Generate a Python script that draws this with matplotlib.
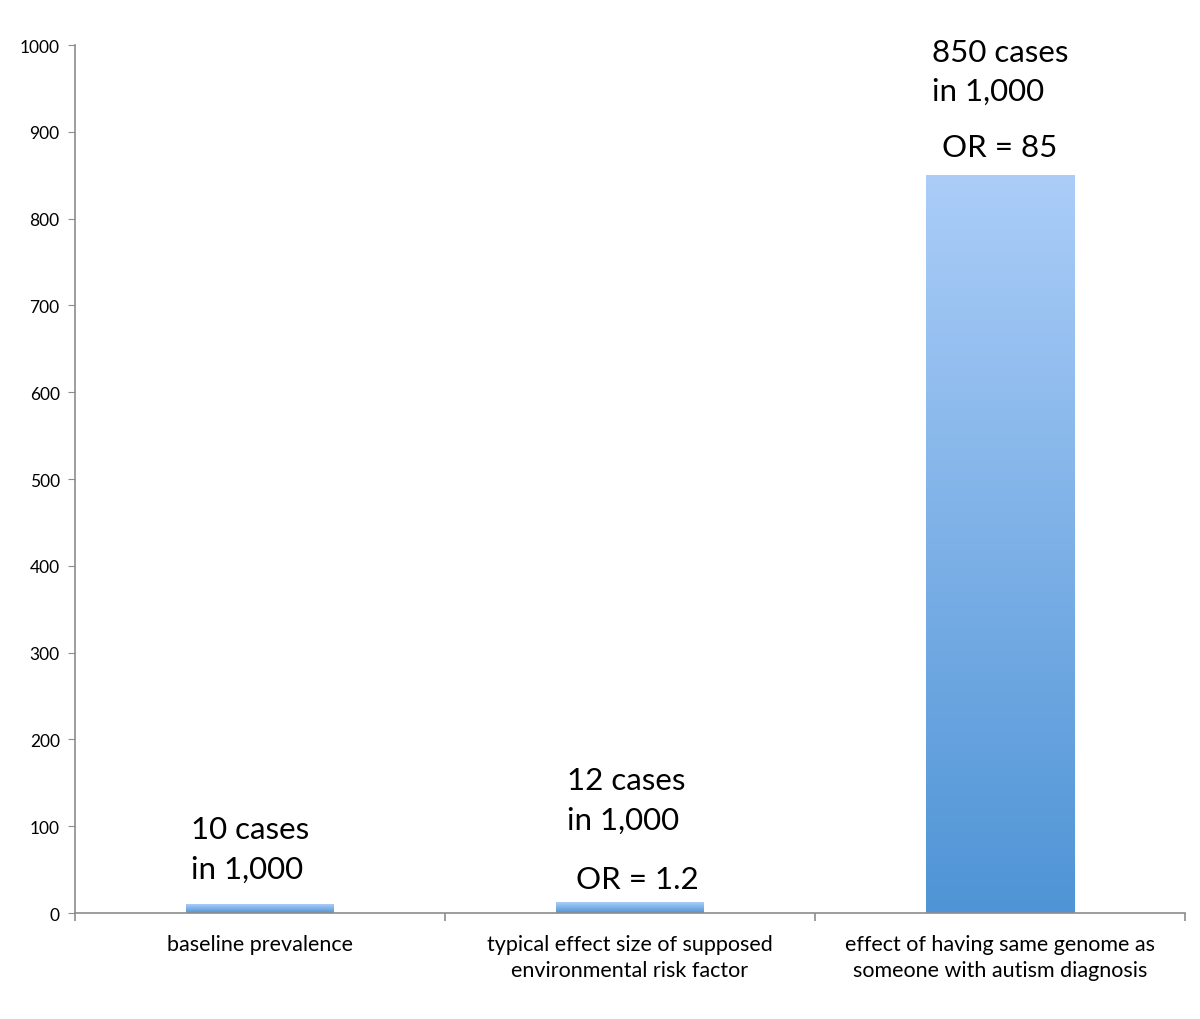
import numpy as np
import matplotlib
matplotlib.use("Agg")
import matplotlib.pyplot as plt
from matplotlib.colors import LinearSegmentedColormap

plt.rcParams['font.family'] = ['Lato', 'DejaVu Sans']

categories = ["baseline prevalence",
              "typical effect size of supposed\nenvironmental risk factor",
              "effect of having same genome as\nsomeone with autism diagnosis"]
cases = [10, 12, 850]
yticks = list(range(0, 1001, 100))

# annotation text per bar
notes = [
    [("10 cases", 0.313, 97), ("in 1,000", 0.313, 51)],
    [("12 cases", 1.33, 153), ("in 1,000", 1.33, 107), ("OR = 1.2", 1.354, 39)],
    [("850 cases", 2.316, 992), ("in 1,000", 2.316, 947), ("OR = 85", 2.343, 882)],
]

fig = plt.figure(figsize=(12, 10.2), dpi=100)
ax = fig.add_axes([0.0625, 0.1039, 0.925, 0.851])

cmap = LinearSegmentedColormap.from_list("bargrad", ["#4f94d6", "#abcdf8"])
grad = np.linspace(0, 1, 256).reshape(-1, 1)

bar_w = 0.4
xs = np.arange(len(cases)) + 0.5
for x, v in zip(xs, cases):
    ax.imshow(grad, cmap=cmap, origin="lower", aspect="auto",
              extent=[x - bar_w / 2, x + bar_w / 2, 0, v], zorder=2)

ax.set_xlim(0, 3)
ax.set_ylim(0, 1000)

for spine in ["top", "right"]:
    ax.spines[spine].set_visible(False)
for spine in ["left", "bottom"]:
    ax.spines[spine].set_color("#8c8c8c")
    ax.spines[spine].set_linewidth(1.2)

ax.set_yticks(yticks)
ax.tick_params(axis="y", labelsize=12.5, color="#8c8c8c", length=5, pad=6)

# boundary ticks on x, labels in category centres
ax.set_xticks([0, 1, 2, 3])
ax.set_xticklabels([])
ax.tick_params(axis="x", color="#8c8c8c", length=6, width=1.2)
ax.set_xticks(xs, minor=True)
ax.set_xticklabels(categories, minor=True, fontsize=15.5, linespacing=1.4)
ax.tick_params(axis="x", which="minor", length=0, pad=15)

for group in notes:
    for txt, x, y in group:
        ax.text(x, y, txt, fontsize=22.5, ha="left", va="center", color="black")

fig.savefig("out.png", dpi=100)
